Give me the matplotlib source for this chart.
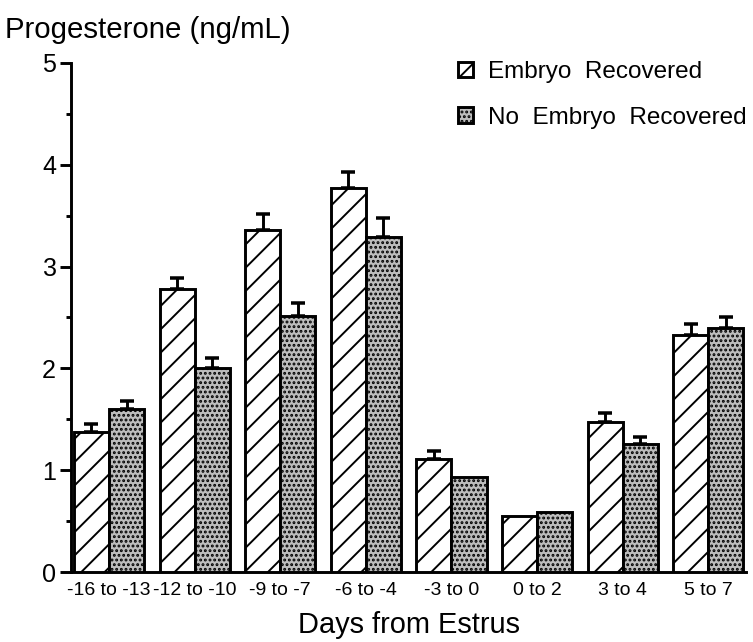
import numpy as np
import matplotlib
matplotlib.use("Agg")
import matplotlib.pyplot as plt

# values (ng/mL), error = upper SE only
groups = ['-16 to -13', '-12 to -10', '-9 to -7', '-6 to -4', '-3 to 0', '0 to 2', '3 to 4', '5 to 7']
embryo = [1.38, 2.78, 3.36, 3.77, 1.11, 0.55, 1.47, 2.33]
embryo_se = [0.07, 0.11, 0.16, 0.16, 0.08, 0.0, 0.09, 0.11]
no_embryo = [1.60, 2.00, 2.51, 3.29, 0.93, 0.59, 1.26, 2.40]
no_embryo_se = [0.08, 0.10, 0.13, 0.19, 0.0, 0.0, 0.07, 0.10]
yticks = [0, 1, 2, 3, 4, 5]

plt.rcParams['font.family'] = ['Liberation Sans', 'DejaVu Sans']
plt.rcParams['hatch.linewidth'] = 1.0

# dpi 140 so the hatch spacing comes out like the original
DPI = 140
fig = plt.figure(figsize=(753 / DPI, 642 / DPI), dpi=DPI)
ax = fig.add_axes([0.0943, 0.109, 0.8964, 0.793])

x = np.arange(len(groups))
w = 0.41

ax.bar(x - w / 2, embryo, width=w, facecolor='white', edgecolor='black',
       linewidth=1.5, hatch='//', label='Embryo  Recovered', zorder=3)
ax.bar(x + w / 2, no_embryo, width=w, facecolor='#bdbdbd', edgecolor='black',
       linewidth=1.5, hatch='.....', label='No  Embryo  Recovered', zorder=3)

# error bars only where there is one
for xs, ys, es in [(x - w / 2, embryo, embryo_se), (x + w / 2, no_embryo, no_embryo_se)]:
    keep = [i for i in range(len(es)) if es[i] > 0]
    ax.errorbar([xs[i] for i in keep], [ys[i] for i in keep],
                yerr=[[0] * len(keep), [es[i] for i in keep]],
                fmt='none', ecolor='black', elinewidth=1.5, capsize=3.6,
                capthick=1.8, zorder=2)

ax.set_xlim(-0.444, 7.44)
ax.set_ylim(0, 5)
ax.set_yticks(yticks)
ax.set_yticks(np.arange(0.5, 5, 1.0), minor=True)
ax.set_xticks(x)
ax.set_xticklabels(groups, fontsize=10)

ax.spines['top'].set_visible(False)
ax.spines['right'].set_visible(False)
ax.spines['left'].set_linewidth(1.5)
ax.spines['bottom'].set_linewidth(1.5)
ax.tick_params(axis='y', which='major', length=5.7, width=1.5, pad=2, labelsize=12.9)
ax.tick_params(axis='y', which='minor', length=2.6, width=1.5)
ax.tick_params(axis='x', length=0, pad=5)

ax.set_xlabel('Days from Estrus', fontsize=14.9, labelpad=6.5)
fig.text(0.007, 1 - 30 / 642, 'Progesterone (ng/mL)', fontsize=15.1, va='center', ha='left')

fig.legend(loc='upper left', bbox_to_anchor=(458 / 753, 1 - 61 / 642), frameon=False,
           fontsize=12.5, handlelength=0.62, handleheight=0.62, handletextpad=0.6,
           labelspacing=0.98, borderpad=0, borderaxespad=0)

fig.savefig('out.png', dpi=DPI)
